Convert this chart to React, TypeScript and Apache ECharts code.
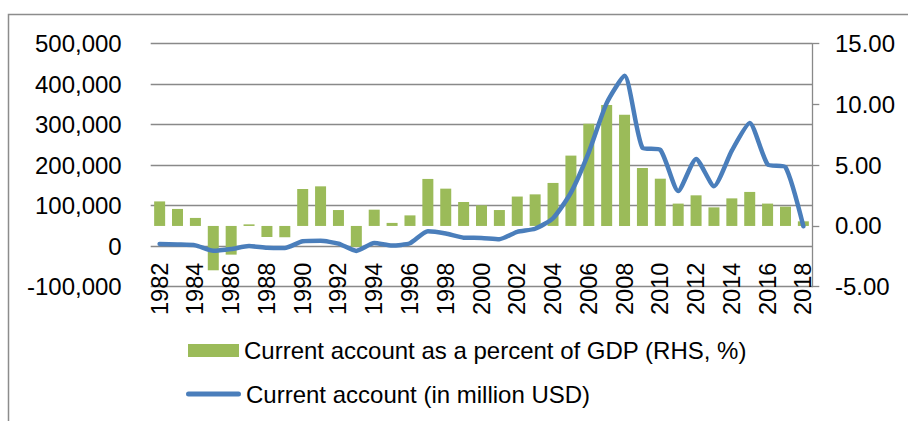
import React, { useEffect, useRef } from "react";
import * as echarts from "echarts";

const years: string[] = [
  "1982","1983","1984","1985","1986","1987","1988","1989","1990","1991",
  "1992","1993","1994","1995","1996","1997","1998","1999","2000","2001",
  "2002","2003","2004","2005","2006","2007","2008","2009","2010","2011",
  "2012","2013","2014","2015","2016","2017","2018",
];

// Current account as a percent of GDP (RHS, %)
const caPctGdp: number[] = [
  2.02, 1.4, 0.66, -3.65, -2.36, 0.13, -0.91, -0.93, 3.04, 3.26,
  1.31, -1.72, 1.34, 0.25, 0.87, 3.87, 3.07, 1.97, 1.7, 1.31,
  2.42, 2.6, 3.54, 5.79, 8.42, 9.96, 9.16, 4.77, 3.89, 1.84,
  2.52, 1.53, 2.27, 2.8, 1.84, 1.59, 0.38,
];

// Current account (in million USD)
const caUsd: number[] = [
  5674, 4240, 2030, -11417, -7034, 300, -3802, -4317, 11997, 13272,
  6401, -11609, 7658, 1618, 7243, 36963, 31472, 21115, 20518, 17401,
  35422, 43052, 68941, 132378, 231843, 353183, 420569, 243257, 237810, 136097,
  215392, 148204, 236047, 304164, 202203, 195117, 49092,
];

const barName = "Current account as a percent of GDP (RHS, %)";
const lineName = "Current account (in million USD)";

const FONT = "'Liberation Sans', Arial, Helvetica, sans-serif";
const GRID_GRAY = "#898989";
const BAR_GREEN = "#9BBB59";
const LINE_BLUE = "#4A7EBB";

export default function App() {
  const ref = useRef<HTMLDivElement>(null);

  useEffect(() => {
    if (!ref.current) return;
    const chart = echarts.init(ref.current, undefined, { renderer: "svg" });
    const legendText = { fontSize: 24, color: "#000", fontFamily: FONT };
    chart.setOption({
      animation: false,
      backgroundColor: "#ffffff",
      textStyle: { fontFamily: FONT },
      graphic: [
        {
          type: "rect",
          shape: { x: 8.5, y: 14.5, width: 1000, height: 1000 },
          style: { fill: "none", stroke: "#8c8c8c", lineWidth: 1.5 },
          silent: true,
        },
      ],
      grid: { left: 150.7, right: 95.7, top: 43.7, bottom: 134.3 },
      legend: [
        {
          orient: "vertical",
          left: 188,
          top: 338.5,
          padding: 0,
          itemWidth: 51,
          itemHeight: 13,
          itemGap: 5,
          textStyle: legendText,
          data: [{ name: barName, icon: "rect" }],
        },
        {
          orient: "vertical",
          left: 186,
          top: 382,
          padding: 0,
          itemWidth: 55,
          itemHeight: 5,
          itemGap: 5,
          textStyle: legendText,
          data: [
            {
              name: lineName,
              icon: "path://M2.5,0 L52.5,0 A2.5,2.5 0 0 1 52.5,5 L2.5,5 A2.5,2.5 0 0 1 2.5,0 Z",
              itemStyle: { color: LINE_BLUE },
            },
          ],
        },
      ],
      xAxis: {
        type: "category",
        data: years,
        boundaryGap: true,
        axisLine: { show: false },
        axisTick: { show: false },
        splitLine: { show: false },
        axisLabel: {
          interval: 1,
          rotate: 90,
          margin: -24,
          fontSize: 23.5,
          color: "#000",
          fontFamily: FONT,
        },
      },
      yAxis: [
        {
          type: "value",
          min: -100000,
          max: 500000,
          interval: 100000,
          axisLine: { show: false },
          axisTick: { show: false },
          splitLine: { show: true, lineStyle: { color: GRID_GRAY, width: 1.3 } },
          axisLabel: {
            margin: 29,
            fontSize: 24,
            color: "#000",
            fontFamily: FONT,
            formatter: (v: number) => v.toLocaleString("en-US"),
          },
        },
        {
          type: "value",
          position: "right",
          min: -5,
          max: 15,
          interval: 5,
          axisLine: { show: true, lineStyle: { color: GRID_GRAY, width: 1.3 } },
          axisTick: { show: true, inside: false, length: 7, lineStyle: { color: GRID_GRAY, width: 1.3 } },
          splitLine: { show: false },
          axisLabel: {
            margin: 22.7,
            fontSize: 24,
            color: "#000",
            fontFamily: FONT,
            formatter: (v: number) => v.toFixed(2),
          },
        },
      ],
      series: [
        {
          name: barName,
          type: "bar",
          yAxisIndex: 1,
          data: caPctGdp,
          barWidth: 11,
          itemStyle: { color: BAR_GREEN },
        },
        {
          name: lineName,
          type: "line",
          yAxisIndex: 0,
          data: caUsd,
          symbol: "none",
          smooth: 0.2,
          lineStyle: { color: LINE_BLUE, width: 4.5, cap: "round", join: "round" },
          itemStyle: { color: LINE_BLUE },
          z: 3,
        },
      ],
    });
    return () => chart.dispose();
  }, []);

  return (
    <div
      ref={ref}
      style={{ position: "absolute", left: 0, top: 0, width: 908, height: 421 }}
    />
  );
}
